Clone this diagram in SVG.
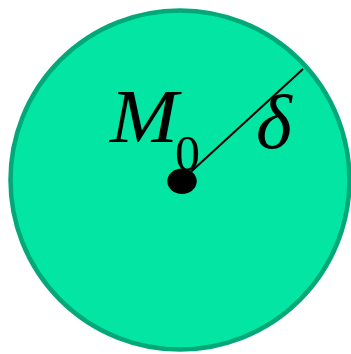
<svg xmlns="http://www.w3.org/2000/svg" width="351" height="354" viewBox="0 0 351 354">
<style>
.t{font-family:"Liberation Serif","Times New Roman",serif;fill:#000}
</style>
<rect width="351" height="354" fill="#fff"/>
<g id="disk">
<circle cx="180" cy="180" r="169.5" fill="#03E5A3" stroke="#02A878" stroke-width="4.5"/>
</g>
<g id="connectors">
<line x1="182" y1="180" x2="303" y2="69" stroke="#000" stroke-width="2"/>
</g>
<g id="point">
<ellipse cx="182" cy="181.3" rx="14.7" ry="12.7" fill="#000"/>
</g>
<g id="labels">
<text class="t" x="110" y="142" font-size="76" font-style="italic" textLength="68" lengthAdjust="spacingAndGlyphs">M</text>
<text class="t" x="175" y="170" font-size="50">0</text>
<text class="t" x="256" y="148" font-size="77" font-style="italic">δ</text>
</g>
</svg>
